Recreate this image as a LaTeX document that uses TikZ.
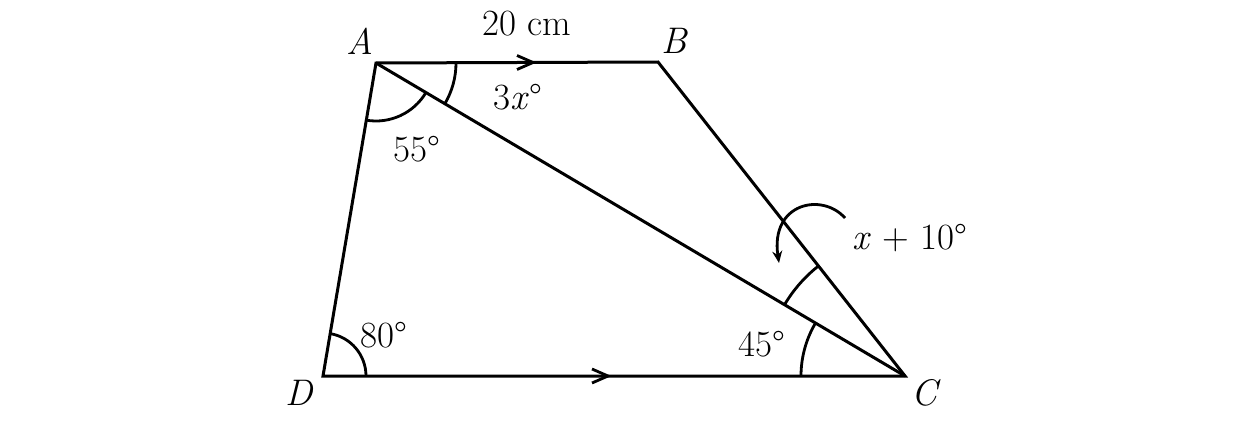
\documentclass[tikz,border=0pt]{standalone}
\usetikzlibrary{arrows.meta}
\begin{document}
\begin{tikzpicture}[x=1pt,y=-1pt,line width=3pt,
  lbl/.style={font=\fontsize{37}{42}\selectfont, inner sep=0pt},
  edge/.style={line join=miter, line cap=butt},
  angarc/.style={line width=2.8pt}]
\useasboundingbox (0,0) rectangle (1238,420);
\coordinate (A) at (376,63);
\coordinate (B) at (658,62);
\coordinate (C) at (905,376);
\coordinate (D) at (323,376);
% sides
\draw[edge] (D) -- (A) -- (B) -- (C) -- cycle;
\draw[edge] (A) -- (C);
% parallel chevrons
\coordinate (mAB) at (533,62.5);
\coordinate (mDC) at (608,376);
\draw[angarc] (mAB) ++(-16,-7) -- (mAB) -- ++(-16,7);
\draw[angarc] (mDC) ++(-16,-7) -- (mDC) -- ++(-16,7);
% angle arcs
\draw[angarc] (A) ++(99.6:58) arc[start angle=99.6, end angle=30.6, radius=58];
\draw[angarc] (A) ++(0:80) arc[start angle=0, end angle=30.6, radius=80];
\draw[angarc] (D) ++(-80.4:43) arc[start angle=-80.4, end angle=0, radius=43];
\draw[angarc] (C) ++(180:104) arc[start angle=180, end angle=210.6, radius=104];
\draw[angarc] (C) ++(210.6:140) arc[start angle=210.6, end angle=231.8, radius=140];
% curved arrow
\coordinate (ca1) at (845,218);
\coordinate (ca2) at (779,263);
\draw[angarc,-{Stealth[length=12pt,width=10pt]}] (ca1) .. controls (822,192) and (770,203) .. (ca2);
% labels
\node[lbl] (lA) at (360,41) {\textit{A}};
\node[lbl] (lB) at (675,41) {\textit{B}};
\node[lbl] (lC) at (926,393) {\textit{C}};
\node[lbl] (lD) at (300,393) {\textit{D}};
\node[lbl] (l20) at (527,24) {20 cm};
\node[lbl] (l3x) at (518,97) {3\textit{x}°};
\node[lbl] (l55) at (417,149) {55°};
\node[lbl] (l80) at (384,335) {80°};
\node[lbl] (l45) at (762,344) {45°};
\node[lbl] (lx) at (910,238) {\textit{x} + 10°};
\end{tikzpicture}
\end{document}
